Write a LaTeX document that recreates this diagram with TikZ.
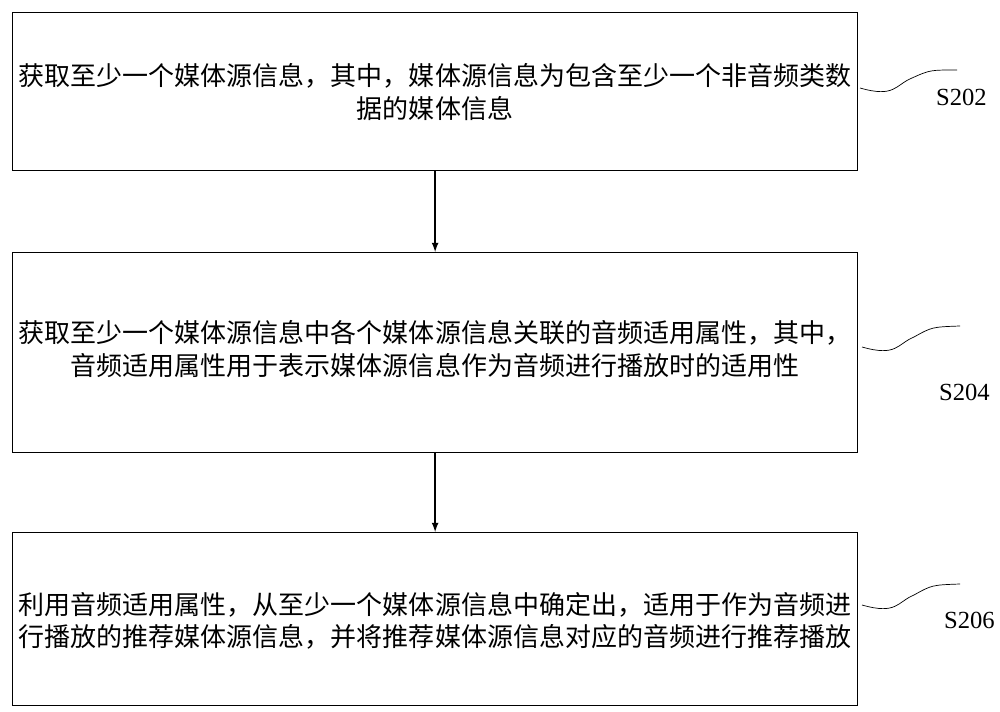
\documentclass[tikz,border=0pt]{standalone}
\usepackage{fontspec}
\setmainfont{Liberation Serif}
\newfontfamily\cjk{Noto Sans CJK SC}
\usetikzlibrary{positioning}

\tikzset{
  stepbox/.style={draw, thick, minimum width=16.9cm, anchor=north west},
  boxtext/.style={font=\cjk\fontsize{14.8pt}{18.5pt}\selectfont, align=center},
  steplabel/.style={font=\fontsize{14pt}{16pt}\selectfont, anchor=west},
  wave/.style={thin}
}

\begin{document}
\begin{tikzpicture}[x=0.02cm, y=-0.02cm]

\useasboundingbox (0,0) rectangle (1000,712);

% Boxes
\node[stepbox, minimum height=3.16cm] (b1) at (12,12) {};
\node[stepbox, minimum height=4cm] (b2) at (12,252) {};
\node[stepbox, minimum height=3.46cm] (b3) at (12,532) {};

% Texts
\node[boxtext] (t1) at (435,92) {获取至少一个媒体源信息，其中，媒体源信息为包含至少一个非音频类数\\据的媒体信息};
\node[boxtext] (t2) at (435,349) {获取至少一个媒体源信息中各个媒体源信息关联的音频适用属性，其中，\\音频适用属性用于表示媒体源信息作为音频进行播放时的适用性};
\node[boxtext] (t3) at (435,621) {利用音频适用属性，从至少一个媒体源信息中确定出，适用于作为音频进\\行播放的推荐媒体源信息，并将推荐媒体源信息对应的音频进行推荐播放};

% Arrows
\draw[thick, -latex] (b1.south) -- (b2.north);
\draw[thick, -latex] (b2.south) -- (b3.north);

% Labels
\node[steplabel] (s1) at (930,97) {S202};
\node[steplabel] (s2) at (933,392) {S204};
\node[steplabel] (s3) at (938,620) {S206};

\draw[wave] (860,88) .. controls (895,98) and (895,85) .. (912,78) .. controls (930,70) .. (957,70);
\draw[wave] (862,347) .. controls (897,357) and (897,344) .. (914,337) .. controls (932,327) .. (960,326);
\draw[wave] (862,605) .. controls (897,615) and (897,602) .. (914,595) .. controls (932,585) .. (960,584);

\end{tikzpicture}
\end{document}
